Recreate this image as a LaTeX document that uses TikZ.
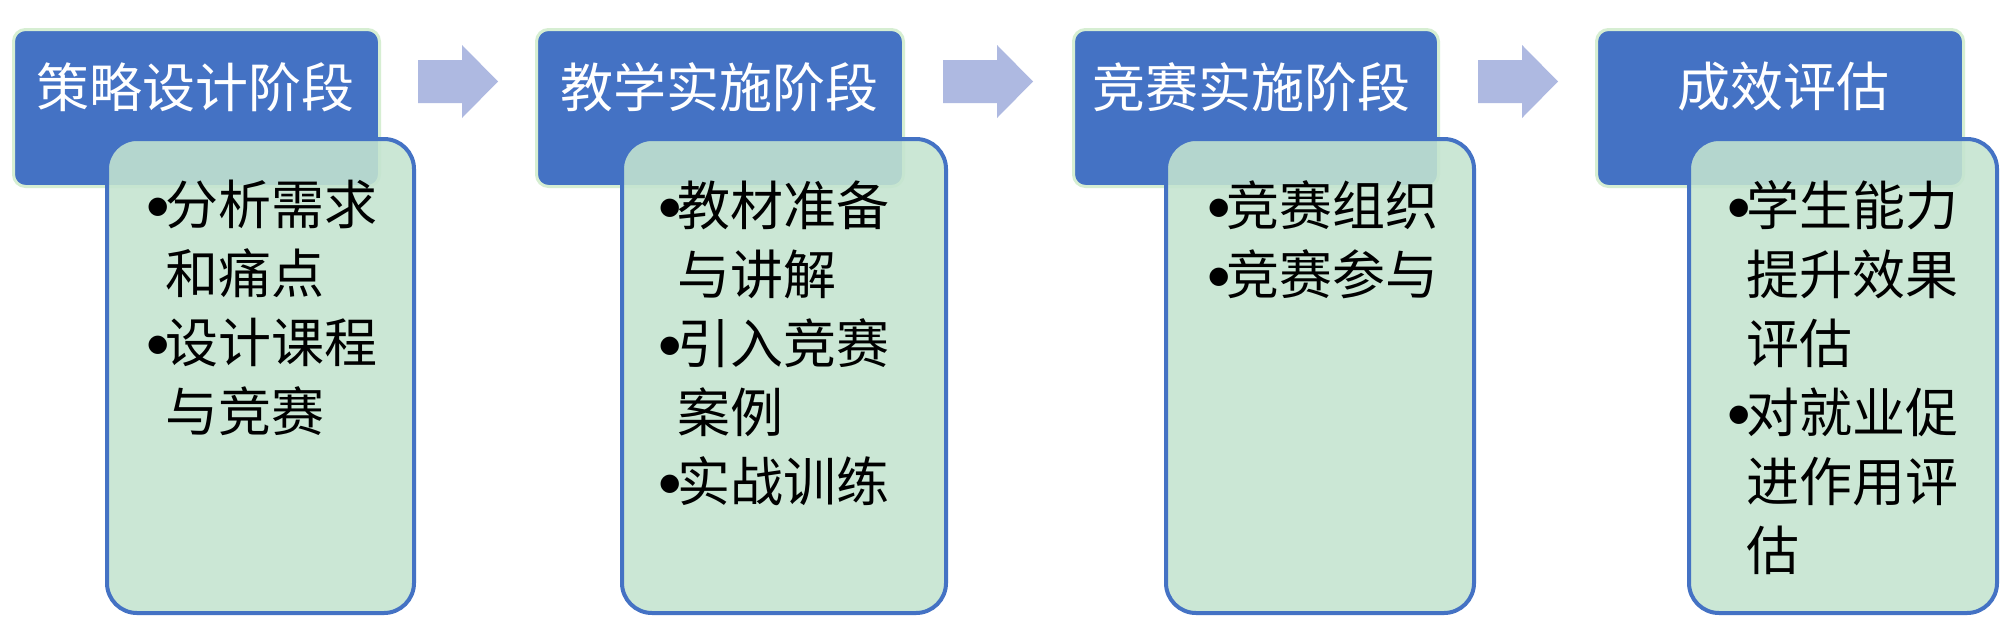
\documentclass[tikz,border=0pt]{standalone}
\usepackage{fontspec}
\newfontfamily\cjk{Noto Sans CJK SC}
\newfontfamily\symfont{DejaVu Sans}
\definecolor{boxblue}{RGB}{68,114,196}
\definecolor{paleG}{RGB}{214,238,210}
\definecolor{mint}{RGB}{196,228,208}
\definecolor{arrowc}{RGB}{174,185,225}
\newcommand\bul{\makebox[9pt][l]{\raisebox{5.5pt}{\symfont\fontsize{12pt}{12pt}\selectfont ●}}}
\newcommand\ind{\hspace*{9pt}}
\newcommand\blockarrow[2]{%
  \fill[arrowc] (#1,60) -- ({#2-36},60) -- ({#2-36},45) -- (#2,81.5)
    -- ({#2-36},118) -- ({#2-36},103) -- (#1,103) -- cycle;}
\begin{document}
\begin{tikzpicture}[x=0.5pt,y=-0.5pt,
  headbox/.style={draw=paleG, line width=1.5pt, fill=boxblue, rounded corners=6pt,
    inner sep=0pt, anchor=north west, minimum height=78.5pt},
  itembox/.style={draw=boxblue, line width=2pt, fill=mint, fill opacity=0.88,
    rounded corners=15pt, inner sep=0pt, anchor=north west, minimum height=237pt},
  headtext/.style={text=white, font=\cjk\fontsize{26.5pt}{30pt}\selectfont, inner sep=0pt},
  itemtext/.style={text=black, font=\cjk\fontsize{26.5pt}{34.5pt}\selectfont,
    align=left, inner sep=0pt, anchor=north west}]
\useasboundingbox (0,0) rectangle (2000,637);
\fill[white] (0,0) rectangle (2000,637);
% header boxes
\node[headbox, minimum width=183pt] (b1) at (12,28) {};
\node[headbox, minimum width=183.5pt] (b2) at (535,28) {};
\node[headbox, minimum width=182.5pt] (b3) at (1072,28) {};
\node[headbox, minimum width=183.5pt] (b4) at (1595,28) {};
\node[headtext] (h1) at (195,87) {策略设计阶段};
\node[headtext] (h2) at (719,87) {教学实施阶段};
\node[headtext] (h3) at (1251,87) {竞赛实施阶段};
\node[headtext] (h4) at (1783,87) {成效评估};
% arrows
\blockarrow{418}{498}
\blockarrow{943}{1033}
\blockarrow{1478}{1558}
% item boxes
\node[itembox, minimum width=153.5pt] (g1) at (105,137) {};
\node[itembox, minimum width=162pt] (g2) at (620,137) {};
\node[itembox, minimum width=154pt] (g3) at (1164,137) {};
\node[itembox, minimum width=154pt] (g4) at (1687,137) {};
% item texts
\node[itemtext] (t1) at (147,180) {\bul 分析需求\\ \ind 和痛点\\ \bul 设计课程\\ \ind 与竞赛};
\node[itemtext] (t2) at (659,180) {\bul 教材准备\\ \ind 与讲解\\ \bul 引入竞赛\\ \ind 案例\\ \bul 实战训练};
\node[itemtext] (t3) at (1208,180) {\bul 竞赛组织\\ \bul 竞赛参与};
\node[itemtext] (t4) at (1728,180) {\bul 学生能力\\ \ind 提升效果\\ \ind 评估\\ \bul 对就业促\\ \ind 进作用评\\ \ind 估};
\end{tikzpicture}
\end{document}
